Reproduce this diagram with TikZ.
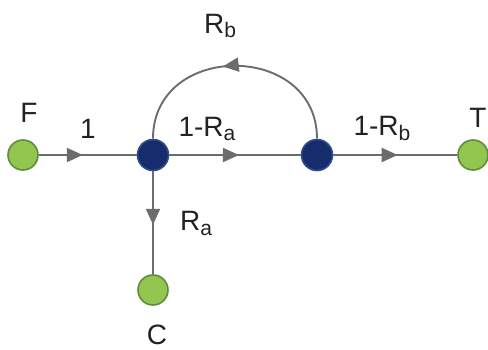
\documentclass[tikz,border=0pt]{standalone}
\usepackage{fontspec}
\setmainfont{Liberation Sans}
\usepackage{tikz}
\usetikzlibrary{arrows.meta,positioning,decorations.markings}
\definecolor{nodegreen}{RGB}{146,198,78}
\definecolor{nodegreenedge}{RGB}{98,140,62}
\definecolor{nodeblue}{RGB}{22,44,108}
\definecolor{nodeblueedge}{RGB}{48,78,140}
\definecolor{flowgray}{RGB}{108,108,108}
\definecolor{labelgray}{RGB}{34,34,34}
\newcommand\subidx[1]{\raisebox{-5pt}{\fontsize{21}{21}\selectfont #1}}

\begin{document}
\begin{tikzpicture}[
  x=1pt, y=1pt,
  node distance=130pt, on grid,
  source/.style={circle, draw=nodegreenedge, fill=nodegreen, line width=1.6pt,
    minimum size=30pt, inner sep=0pt},
  junction/.style={circle, draw=nodeblueedge, fill=nodeblue, line width=1.6pt,
    minimum size=31pt, inner sep=0pt},
  flow/.style={line width=1.9pt, draw=flowgray},
  tipat/.style={postaction={decorate}, decoration={markings,
    mark=at position #1 with {\arrow[flowgray]{Triangle[length=16pt,width=14pt]}}}},
  lbl/.style={font=\fontsize{28}{28}\selectfont, text=labelgray, inner sep=0pt, anchor=base}
]
\useasboundingbox (0,0) rectangle (488,349);

\node[source] (F) at (23,194) {};
\node[junction, right=130pt of F] (A) {};
\node[junction, right=164pt of A] (B) {};
\node[source, right=156pt of B] (T) {};
\node[source, below=135pt of A] (C) {};

\draw[flow, tipat=0.45] (F) -- (A);
\draw[flow, tipat=0.53] (A) -- (B);
\draw[flow, tipat=0.52] (B) -- (T);
\draw[flow, tipat=0.52] (A) -- (C);
\draw[flow, tipat=0.55] (B.north) to[out=90, in=90, looseness=1.52] (A.north);

\node[lbl] (labF) at (29,226) {F};
\node[lbl] (labT) at (478,222) {T};
\node[lbl] (labC) at (157,5) {C};
\node[lbl] (labFA) at (88,211) {1};
\node[lbl] (labAB) at (207,213) {1-R\subidx{a}};
\node[lbl] (labBT) at (382,214) {1-R\subidx{b}};
\node[lbl] (labAC) at (196,119) {R\subidx{a}};
\node[lbl] (labBA) at (220,316) {R\subidx{b}};
\end{tikzpicture}
\end{document}
